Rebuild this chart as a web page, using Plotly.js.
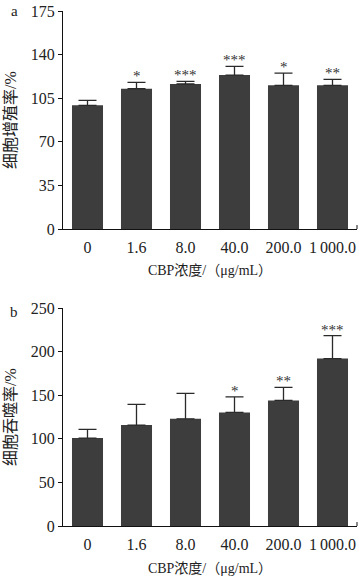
<!DOCTYPE html>
<html>
<head>
<meta charset="utf-8">
<script src="https://cdn.plot.ly/plotly-3.0.1.min.js"></script>
<style>html,body{margin:0;padding:0;background:#fff;}#chart{width:359px;height:577px;}</style>
</head>
<body>
<div id="chart"></div>
<script>
// ---- data ----
const categories = ['0', '1.6', '8.0', '40.0', '200.0', '1\u2009000.0'];
const proliferation = [99.3, 112.6, 116.4, 123.6, 115.3, 115.3];
const proliferationErr = [4.0, 5.1, 2.1, 7.0, 9.9, 4.8];
const proliferationSig = ['', '*', '***', '***', '*', '**'];
const phagocytosis = [100.8, 115.7, 122.9, 130.2, 144.0, 192.0];
const phagocytosisErr = [9.9, 23.7, 29.1, 17.8, 14.9, 26.4];
const phagocytosisSig = ['', '', '', '*', '**', '***'];
const yTicksA = [0, 35, 70, 105, 140, 175];
const yTicksB = [0, 50, 100, 150, 200, 250];
const xTitle = 'CBP浓度/（μg/mL）';
const yTitleA = '细胞增殖率/%';
const yTitleB = '细胞吞噬率/%';
const panelLabels = ['a', 'b'];

const serif = 'Liberation Serif, Times New Roman, Noto Sans CJK SC, serif';
const barColor = '#3d3d3d';
const zeros = categories.map(() => 0);

function barTrace(vals, errs, xa, ya) {
  return {
    type: 'bar', x: categories, y: vals, xaxis: xa, yaxis: ya,
    marker: {color: barColor, line: {width: 0}},
    width: 0.633,
    error_y: {type: 'data', array: errs, arrayminus: zeros, symmetric: false,
              color: '#2a2a2a', thickness: 1.3, width: 9},
    hoverinfo: 'skip', showlegend: false
  };
}

const data = [
  barTrace(proliferation, proliferationErr, 'x', 'y'),
  barTrace(phagocytosis, phagocytosisErr, 'x2', 'y2')
];

const annotations = [];
categories.forEach((c, i) => {
  if (proliferationSig[i]) annotations.push({
    xref: 'x', yref: 'y', x: i, y: proliferation[i] + proliferationErr[i],
    text: proliferationSig[i], showarrow: false, yanchor: 'bottom', yshift: -4,
    font: {family: serif, size: 15, color: '#333'}
  });
  if (phagocytosisSig[i]) annotations.push({
    xref: 'x2', yref: 'y2', x: i, y: phagocytosis[i] + phagocytosisErr[i],
    text: phagocytosisSig[i], showarrow: false, yanchor: 'bottom', yshift: -4,
    font: {family: serif, size: 15, color: '#333'}
  });
});
annotations.push({xref: 'paper', yref: 'paper', x: -0.165, y: 1.0, xanchor: 'center', yanchor: 'middle',
  text: panelLabels[0], showarrow: false, font: {family: serif, size: 15, color: '#222'}});
annotations.push({xref: 'paper', yref: 'paper', x: -0.165, y: 0.415, xanchor: 'center', yanchor: 'middle',
  text: panelLabels[1], showarrow: false, font: {family: serif, size: 15, color: '#222'}});

function xAxis(anchor) {
  return {
    anchor: anchor, domain: [0, 1], type: 'category', categoryorder: 'array', categoryarray: categories,
    range: [-0.5, 5.5], showline: true, linecolor: '#111', linewidth: 1, ticks: '', showgrid: false,
    zeroline: false, tickfont: {family: serif, size: 16, color: '#222'}, ticklabelstandoff: 4,
    title: {text: xTitle, font: {family: serif, size: 14, color: '#222'}, standoff: 10},
    automargin: false
  };
}
function yAxis(anchor, domain, range, ticks, title) {
  return {
    anchor: anchor, domain: domain, range: range, tickvals: ticks, ticktext: ticks.map(String),
    showline: true, linecolor: '#111', linewidth: 1, ticks: 'outside', ticklen: 4, tickcolor: '#111',
    showgrid: false, zeroline: false, tickfont: {family: serif, size: 16, color: '#222'},
    title: {text: title, font: {family: serif, size: 16, color: '#222'}, standoff: 10},
    automargin: false
  };
}

const layout = {
  width: 359, height: 577,
  margin: {l: 63, r: 2, t: 11, b: 51},
  paper_bgcolor: '#fff', plot_bgcolor: '#fff',
  xaxis: xAxis('y'),
  yaxis: yAxis('x', [0.5767, 1], [0, 175], yTicksA, yTitleA),
  xaxis2: xAxis('y2'),
  yaxis2: yAxis('x2', [0, 0.4233], [0, 250], yTicksB, yTitleB),
  bargap: 0.367,
  annotations: annotations,
  shapes: [
    {type: 'line', xref: 'x domain', yref: 'y domain', x0: 1, x1: 1, y0: 0, y1: 0.018, line: {color: '#111', width: 1}},
    {type: 'line', xref: 'x2 domain', yref: 'y2 domain', x0: 1, x1: 1, y0: 0, y1: 0.018, line: {color: '#111', width: 1}}
  ]
};

Plotly.newPlot('chart', data, layout, {staticPlot: true, displayModeBar: false});
</script>
</body>
</html>
